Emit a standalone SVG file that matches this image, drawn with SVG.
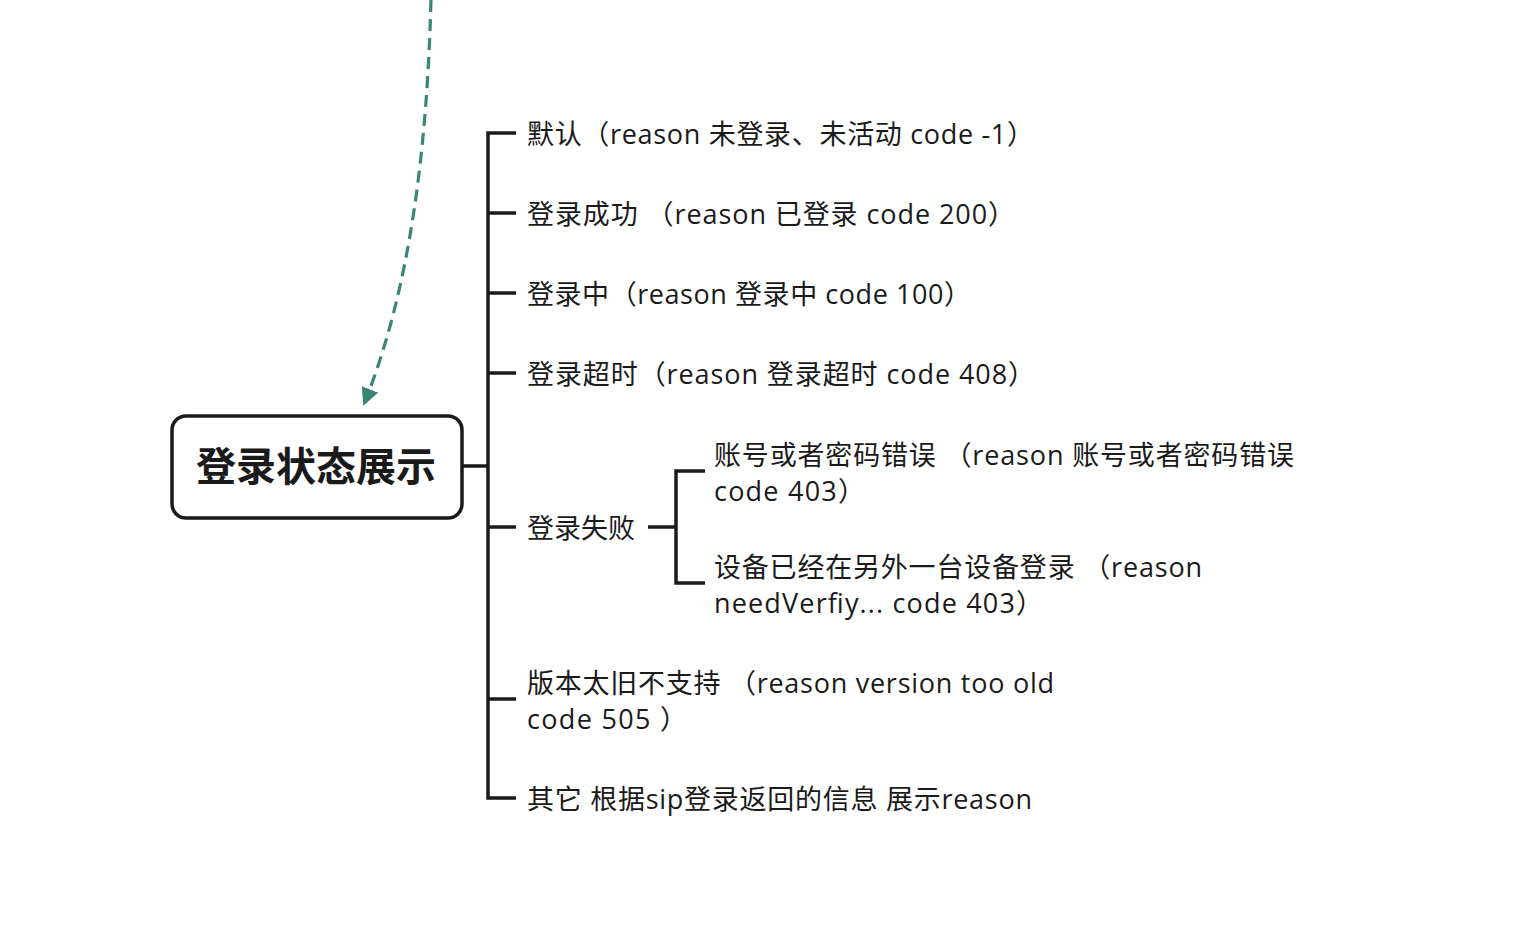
<svg xmlns="http://www.w3.org/2000/svg" width="1540" height="936" viewBox="0 0 1540 936">
<defs>
<style>
.t{font-family:"Open Sans","Noto Sans CJK SC",sans-serif;font-size:27px;fill:#1a1a1a}
.root{font-family:"Noto Sans CJK SC",sans-serif;font-size:40px;font-weight:bold;fill:#1a1a1a}
.ln{fill:none;stroke:#1a1a1a;stroke-width:3.5}
</style>
<marker id="ah" viewBox="0 0 10 10" refX="9" refY="5" markerWidth="5.5" markerHeight="5.5" orient="auto" markerUnits="strokeWidth">
<path d="M0,0 L10,5 L0,10 z" fill="#3a8577"/>
</marker>
</defs>
<rect width="1540" height="936" fill="#ffffff"/>
<g id="connectors">
<path d="M431,0 C427,150 410,290 364,404" fill="none" stroke="#3a8577" stroke-width="3.2" stroke-dasharray="12,7" marker-end="url(#ah)"/>
<path class="ln" d="M462,466 H488"/>
<path class="ln" d="M516,133 H488 V798 H516"/>
<path class="ln" d="M488,213 H516 M488,293 H516 M488,373 H516 M488,527 H516 M488,699 H516"/>
<path class="ln" d="M648,527 H676"/>
<path class="ln" d="M705,471 H676 V583 H705"/>
</g>
<g id="root">
<rect x="172" y="416" width="290" height="102" rx="14" fill="#ffffff" stroke="#1a1a1a" stroke-width="3.5"/>
<text class="root" x="316" y="481" text-anchor="middle">登录状态展示</text>
</g>
<g id="n1"><text class="t" x="527" y="144" textLength="507" lengthAdjust="spacing">默认（reason 未登录、未活动 code -1）</text></g>
<g id="n2"><text class="t" x="527" y="224" textLength="488" lengthAdjust="spacing">登录成功 （reason 已登录 code 200）</text></g>
<g id="n3"><text class="t" x="527" y="304" textLength="444" lengthAdjust="spacing">登录中（reason 登录中 code 100）</text></g>
<g id="n4"><text class="t" x="527" y="384" textLength="508" lengthAdjust="spacing">登录超时（reason 登录超时 code 408）</text></g>
<g id="n5"><text class="t" x="527" y="538">登录失败</text></g>
<g id="n5a"><text class="t" x="714" y="465" textLength="580" lengthAdjust="spacing">账号或者密码错误 （reason 账号或者密码错误</text><text class="t" x="714" y="501" textLength="151" lengthAdjust="spacing">code 403）</text></g>
<g id="n5b"><text class="t" x="714" y="577" textLength="488" lengthAdjust="spacing">设备已经在另外一台设备登录 （reason</text><text class="t" x="714" y="613" textLength="329" lengthAdjust="spacing">needVerfiy... code 403）</text></g>
<g id="n6"><text class="t" x="527" y="693" textLength="527" lengthAdjust="spacing">版本太旧不支持 （reason version too old</text><text class="t" x="527" y="729" textLength="160" lengthAdjust="spacing">code 505 ）</text></g>
<g id="n7"><text class="t" x="527" y="809" textLength="505" lengthAdjust="spacing">其它 根据sip登录返回的信息 展示reason</text></g>
</svg>
